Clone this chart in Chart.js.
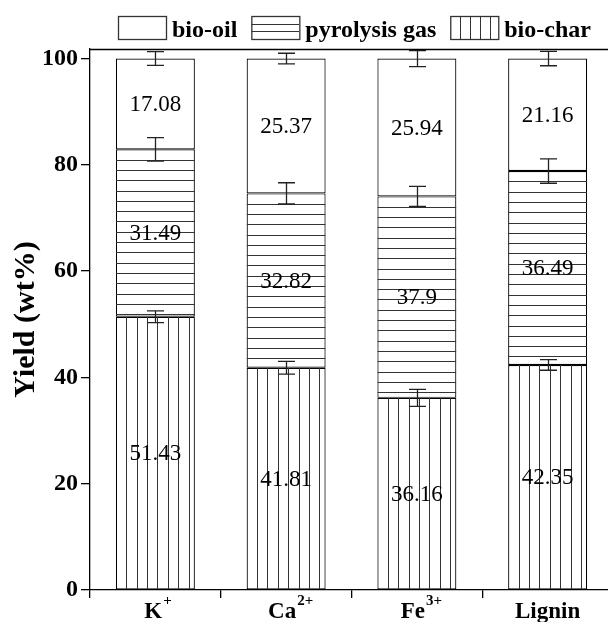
<!DOCTYPE html>
<html><head><meta charset="utf-8">
<script src="https://cdn.jsdelivr.net/npm/chart.js@4.4.1/dist/chart.umd.min.js"></script>
<style>html,body{margin:0;padding:0;overflow:hidden;background:#fff}</style>
</head><body>
<canvas id="c" width="613" height="622"></canvas>
<script>
const categoryBase = ['K', 'Ca', 'Fe', 'Lignin'];
const categorySup = ['+', '2+', '3+', ''];
const categories = categoryBase.map((b, i) => b + categorySup[i]);
const seriesNames = ['bio-char', 'pyrolysis gas', 'bio-oil'];
const bioChar = [51.43, 41.81, 36.16, 42.35];
const pyrolysisGas = [31.49, 32.82, 37.9, 36.49];
const bioOil = [17.08, 25.37, 25.94, 21.16];
const errChar = [1.1, 1.2, 1.6, 1.0];
const errGas = [2.2, 2.0, 1.9, 2.3];
const errOil = [1.3, 1.0, 1.5, 1.35];
const yTicks = [0, 20, 40, 60, 80, 100];
const legendOrder = ['bio-oil', 'pyrolysis gas', 'bio-char'];

const SERIF = '"Liberation Serif","Times New Roman",Times,serif';
const HATCH = { 'bio-char': 'v', 'pyrolysis gas': 'h', 'bio-oil': '' };
const ERR = [errChar, errGas, errOil];

function drawHatch(ctx, type, l, t, r, b, step) {
  if (!type) return;
  ctx.save();
  ctx.beginPath(); ctx.rect(l, t, r - l, b - t); ctx.clip();
  ctx.strokeStyle = '#333'; ctx.lineWidth = 1;
  ctx.beginPath();
  if (type === 'v') {
    for (let xx = l + step; xx < r - 2; xx += step) { const px = Math.round(xx) + 0.5; ctx.moveTo(px, t); ctx.lineTo(px, b); }
  } else {
    for (let yy = t + step; yy < b - 2; yy += step) { const py = Math.round(yy) + 0.5; ctx.moveTo(l, py); ctx.lineTo(r, py); }
  }
  ctx.stroke(); ctx.restore();
}

const decor = {
  id: 'decor',
  afterDatasetsDraw(chart) {
    const ctx = chart.ctx, ys = chart.scales.y;
    // hatching
    chart.data.datasets.forEach((ds, di) => {
      const meta = chart.getDatasetMeta(di);
      meta.data.forEach(bar => {
        const p = bar.getProps(['x', 'y', 'base', 'width'], true);
        const l = p.x - p.width / 2, r = p.x + p.width / 2;
        const t = Math.min(p.y, p.base), b = Math.max(p.y, p.base);
        drawHatch(ctx, HATCH[ds.label], l, t, r, b, di === 0 ? 10.4 : 10.3);
      });
    });
    // value labels
    ctx.save();
    ctx.fillStyle = '#000'; ctx.font = '23px ' + SERIF;
    ctx.textAlign = 'center'; ctx.textBaseline = 'middle';
    chart.data.datasets.forEach((ds, di) => {
      const meta = chart.getDatasetMeta(di);
      meta.data.forEach((bar, i) => {
        const p = bar.getProps(['x', 'y', 'base'], true);
        ctx.fillText(String(ds.data[i]), p.x, (p.y + p.base) / 2 + 1);
      });
    });
    ctx.restore();
    // error bars
    ctx.save();
    ctx.strokeStyle = '#222'; ctx.lineWidth = 1.3;
    chart.data.datasets.forEach((ds, di) => {
      const meta = chart.getDatasetMeta(di);
      meta.data.forEach((bar, i) => {
        let top = 0;
        for (let k = 0; k <= di; k++) top += chart.data.datasets[k].data[i];
        const e = ERR[di][i];
        const x = Math.round(bar.x) + 0.5;
        const y1 = ys.getPixelForValue(top + e), y2 = ys.getPixelForValue(top - e);
        ctx.beginPath();
        ctx.moveTo(x, y1); ctx.lineTo(x, y2);
        ctx.moveTo(x - 8.5, y1); ctx.lineTo(x + 8.5, y1);
        ctx.moveTo(x - 8.5, y2); ctx.lineTo(x + 8.5, y2);
        ctx.stroke();
      });
    });
    ctx.restore();
  },
  afterDraw(chart) {
    const ctx = chart.ctx, a = chart.chartArea, xs = chart.scales.x;
    // frame top/right
    ctx.save();
    ctx.strokeStyle = '#000'; ctx.lineWidth = 1.3;
    ctx.beginPath();
    ctx.moveTo(a.left, Math.round(a.top) + 0.5); ctx.lineTo(a.right, Math.round(a.top) + 0.5); ctx.lineTo(a.right, a.bottom);
    ctx.stroke();
    // category labels with superscripts
    ctx.fillStyle = '#000'; ctx.textBaseline = 'alphabetic'; ctx.textAlign = 'left';
    categoryBase.forEach((b, i) => {
      const cx = xs.getPixelForValue(i);
      ctx.font = 'bold 23px ' + SERIF;
      const wb = ctx.measureText(b).width;
      ctx.font = 'bold 15px ' + SERIF;
      const ws = categorySup[i] ? ctx.measureText(categorySup[i]).width : 0;
      const left = cx - (wb + ws * 0.5) / 2;
      ctx.font = 'bold 23px ' + SERIF;
      ctx.fillText(b, left, 618);
      if (categorySup[i]) { ctx.font = 'bold 15px ' + SERIF; ctx.fillText(categorySup[i], left + wb + 1, 605); }
    });
    // legend
    let lx = 118;
    ctx.font = 'bold 24px ' + SERIF;
    legendOrder.forEach(name => {
      const bx = lx, by = 16, bw = 48, bh = 23;
      ctx.fillStyle = '#fff'; ctx.fillRect(bx, by, bw, bh);
      drawHatch(ctx, HATCH[name], bx, by, bx + bw, by + bh, name === 'bio-char' ? 10 : 7.5);
      ctx.strokeStyle = '#333'; ctx.lineWidth = 1.3;
      ctx.strokeRect(bx + 0.5, by + 0.5, bw, bh);
      ctx.fillStyle = '#000';
      ctx.fillText(name, bx + bw + 6, 37);
      lx = bx + bw + 6 + ctx.measureText(name).width + 14;
    });
    ctx.restore();
  }
};

const dataSeries = [bioChar, pyrolysisGas, bioOil];
new Chart(document.getElementById('c'), {
  type: 'bar',
  data: {
    labels: categories,
    datasets: seriesNames.map((n, i) => ({
      label: n,
      data: dataSeries[i],
      backgroundColor: '#fff',
      borderColor: '#000',
      borderWidth: 1.2,
      borderSkipped: false,
      barPercentage: 0.604,
      categoryPercentage: 1
    }))
  },
  options: {
    responsive: false,
    animation: false,
    layout: { padding: { top: 49, left: 0, right: 0, bottom: 0 } },
    plugins: { legend: { display: false }, tooltip: { enabled: false } },
    scales: {
      x: {
        stacked: true, offset: true,
        ticks: { display: false },
        grid: { drawOnChartArea: false, offset: true, color: '#000', tickLength: 8, lineWidth: 1.3 },
        border: { color: '#000', width: 1.3 },
        afterFit: ax => { ax.height = 32; }
      },
      y: {
        stacked: true, min: 0, max: 101.8,
        afterBuildTicks: ax => { ax.ticks = yTicks.map(v => ({ value: v })); },
        ticks: { font: { family: SERIF, size: 24, weight: 'bold' }, color: '#000', padding: 3 },
        grid: { drawOnChartArea: false, color: '#000', tickLength: 9, lineWidth: 1.3 },
        border: { color: '#000', width: 1.3 },
        title: { display: true, text: 'Yield (wt%)', font: { family: SERIF, size: 30, weight: 'bold' }, color: '#000', padding: { top: 8, bottom: 0 } },
        afterFit: ax => { ax.width = 90; }
      }
    }
  },
  plugins: [decor]
});
</script>
</body></html>
